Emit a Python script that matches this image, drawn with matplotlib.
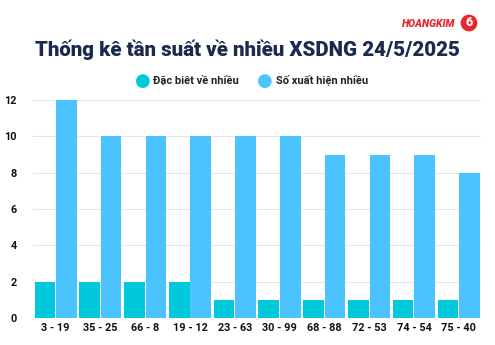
import matplotlib.pyplot as plt
import numpy as np

# data
pairs = ["3 - 19", "35 - 25", "66 - 8", "19 - 12", "23 - 63",
         "30 - 99", "68 - 88", "72 - 53", "74 - 54", "75 - 40"]
dac_biet = [2, 2, 2, 2, 1, 1, 1, 1, 1, 1]
so_xuat_hien = [12, 10, 10, 10, 10, 10, 9, 9, 9, 8]

teal = "#00C9DB"
blue = "#4BC3FF"
navy = "#1B2A4E"

plt.rcParams['font.family'] = ['Roboto', 'DejaVu Sans']

fig = plt.figure(figsize=(4.95, 3.45), dpi=100)
ax = fig.add_axes([0.067, 0.078, 0.905, 0.632])

x = np.arange(len(pairs))
w = 0.46
ax.bar(x - w / 2 - 0.01, dac_biet, width=w, color=teal, zorder=2)
ax.bar(x + w / 2 + 0.01, so_xuat_hien, width=w, color=blue, zorder=2)

ax.set_xlim(-0.5, len(pairs) - 0.5)
ax.set_ylim(0, 12)
ax.set_yticks(range(0, 13, 2))
ax.set_xticks(x)
ax.set_xticklabels(pairs)
ax.tick_params(axis='both', length=0, labelsize=7.8, labelcolor="#111111")
ax.tick_params(axis='y', pad=12)
for lab in ax.get_xticklabels() + ax.get_yticklabels():
    lab.set_fontweight('bold')
ax.grid(axis='y', color="#e6e6e6", linewidth=0.8, zorder=0)
for s in ax.spines.values():
    s.set_visible(False)

fig.text(0.5, 0.855, "Thống kê tần suất về nhiều XSDNG 24/5/2025",
         ha='center', va='center', fontsize=14.8, fontweight='black', color=navy)

# legend
ly = 1 - 81 / 345
fig.text(143 / 495, ly, "●", color=teal, fontsize=13, ha='center', va='center',
         family='DejaVu Sans')
fig.text(153 / 495, ly, "Đặc biêt về nhiều", fontsize=8, fontweight='bold',
         ha='left', va='center', color="#222222")
fig.text(265 / 495, ly, "●", color=blue, fontsize=13, ha='center', va='center',
         family='DejaVu Sans')
fig.text(276 / 495, ly, "Số xuất hiện nhiều", fontsize=8, fontweight='bold',
         ha='left', va='center', color="#222222")

# logo
fig.text(455 / 495, 1 - 24 / 345, "HOANGKIM", fontsize=7.5, fontweight='black',
         style='italic', color="#E8262D", ha='right', va='center')
fig.text(469 / 495, 1 - 23 / 345, "6", fontsize=9, fontweight='black',
         color="white", ha='center', va='center',
         bbox=dict(boxstyle='circle,pad=0.15', fc="#E8262D", ec='none'))

fig.savefig("out.png", dpi=100)
